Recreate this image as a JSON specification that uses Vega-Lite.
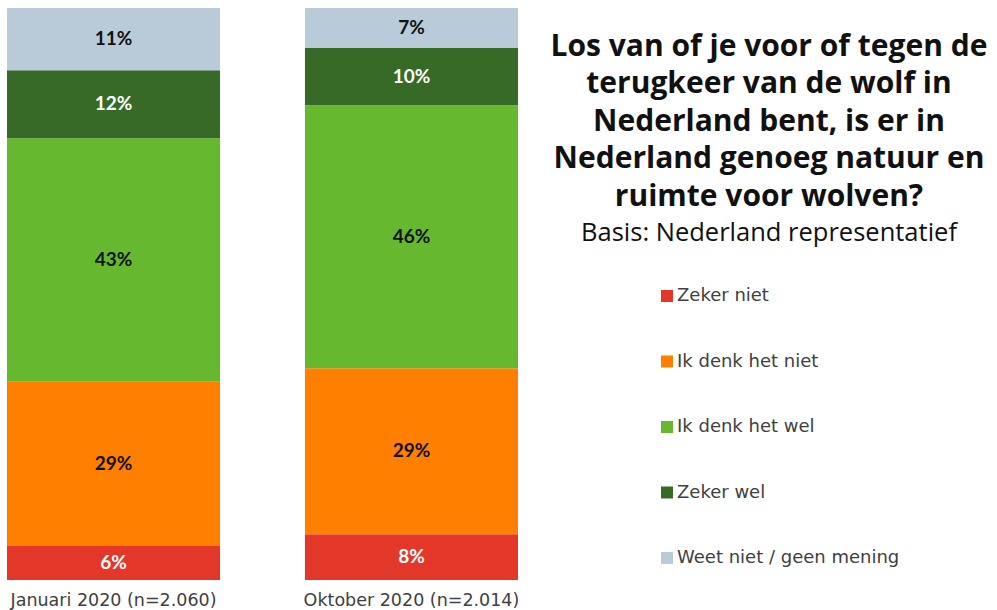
{
  "$schema": "https://vega.github.io/schema/vega-lite/v6.json",
  "width": 525,
  "height": 572,
  "autosize": {"type": "none"},
  "padding": {"left": 0, "top": 8, "right": 472, "bottom": 30},
  "background": "white",
  "config": {"view": {"stroke": null}},
  "title": {
    "text": ["Los van of je voor of tegen de", "terugkeer van de wolf in", "Nederland bent, is er in", "Nederland genoeg natuur en", "ruimte voor wolven?"],
    "subtitle": "Basis: Nederland representatief",
    "anchor": "start",
    "frame": "group",
    "align": "center",
    "dx": 769,
    "dy": 242,
    "font": "Open Sans",
    "fontSize": 30,
    "fontWeight": "bold",
    "color": "#111111",
    "lineHeight": 37.5,
    "subtitleFont": "Open Sans",
    "subtitleFontSize": 25.5,
    "subtitleColor": "#111111",
    "subtitlePadding": 9
  },
  "data": {
    "values": [
      {"periode": "Januari 2020 (n=2.060)", "cat": "Zeker niet", "ord": 1, "v": 0.06},
      {"periode": "Januari 2020 (n=2.060)", "cat": "Ik denk het niet", "ord": 2, "v": 0.29},
      {"periode": "Januari 2020 (n=2.060)", "cat": "Ik denk het wel", "ord": 3, "v": 0.43},
      {"periode": "Januari 2020 (n=2.060)", "cat": "Zeker wel", "ord": 4, "v": 0.12},
      {"periode": "Januari 2020 (n=2.060)", "cat": "Weet niet / geen mening", "ord": 5, "v": 0.11},
      {"periode": "Oktober 2020 (n=2.014)", "cat": "Zeker niet", "ord": 1, "v": 0.08},
      {"periode": "Oktober 2020 (n=2.014)", "cat": "Ik denk het niet", "ord": 2, "v": 0.29},
      {"periode": "Oktober 2020 (n=2.014)", "cat": "Ik denk het wel", "ord": 3, "v": 0.46},
      {"periode": "Oktober 2020 (n=2.014)", "cat": "Zeker wel", "ord": 4, "v": 0.10},
      {"periode": "Oktober 2020 (n=2.014)", "cat": "Weet niet / geen mening", "ord": 5, "v": 0.07}
    ]
  },
  "transform": [
    {"stack": "v", "groupby": ["periode"], "sort": [{"field": "ord", "order": "ascending"}], "as": ["y0", "y1"], "offset": "normalize"},
    {"calculate": "(datum.y0 + datum.y1) / 2", "as": "ym"}
  ],
  "encoding": {
    "x": {
      "field": "periode",
      "type": "nominal",
      "sort": null,
      "scale": {"paddingInner": 0.285, "paddingOuter": 0.0235},
      "axis": {
        "title": null,
        "labelAngle": 0,
        "domain": false,
        "ticks": false,
        "labelFont": "DejaVu Sans",
        "labelFontSize": 17.5,
        "labelColor": "#404040",
        "labelPadding": 11,
        "labelLimit": 0
      }
    }
  },
  "layer": [
    {
      "mark": {"type": "bar"},
      "encoding": {
        "y": {"field": "y0", "type": "quantitative", "scale": {"domain": [0, 1], "nice": false}, "axis": null},
        "y2": {"field": "y1"},
        "color": {
          "field": "cat",
          "type": "nominal",
          "scale": {
            "domain": ["Zeker niet", "Ik denk het niet", "Ik denk het wel", "Zeker wel", "Weet niet / geen mening"],
            "range": ["#E3372A", "#FF8000", "#66B92E", "#376A26", "#B9CBD8"]
          },
          "legend": {
            "title": null,
            "orient": "none",
            "legendX": 658,
            "legendY": 279,
            "padding": 0,
            "symbolType": "square",
            "symbolSize": 144,
            "symbolStrokeWidth": 0,
            "labelFont": "DejaVu Sans",
            "labelFontSize": 18,
            "labelColor": "#404040",
            "labelOffset": 1,
            "labelLimit": 0,
            "rowPadding": 47.5
          }
        }
      }
    },
    {
      "mark": {"type": "text", "font": "Lato", "fontWeight": "bold", "fontSize": 19, "baseline": "middle"},
      "encoding": {
        "y": {"field": "ym", "type": "quantitative", "scale": {"domain": [0, 1], "nice": false}, "axis": null},
        "text": {"field": "v", "type": "quantitative", "format": ".0%"},
        "color": {
          "condition": {"test": "datum.cat === 'Zeker niet' || datum.cat === 'Zeker wel'", "value": "#ffffff"},
          "value": "#111111"
        }
      }
    }
  ]
}
